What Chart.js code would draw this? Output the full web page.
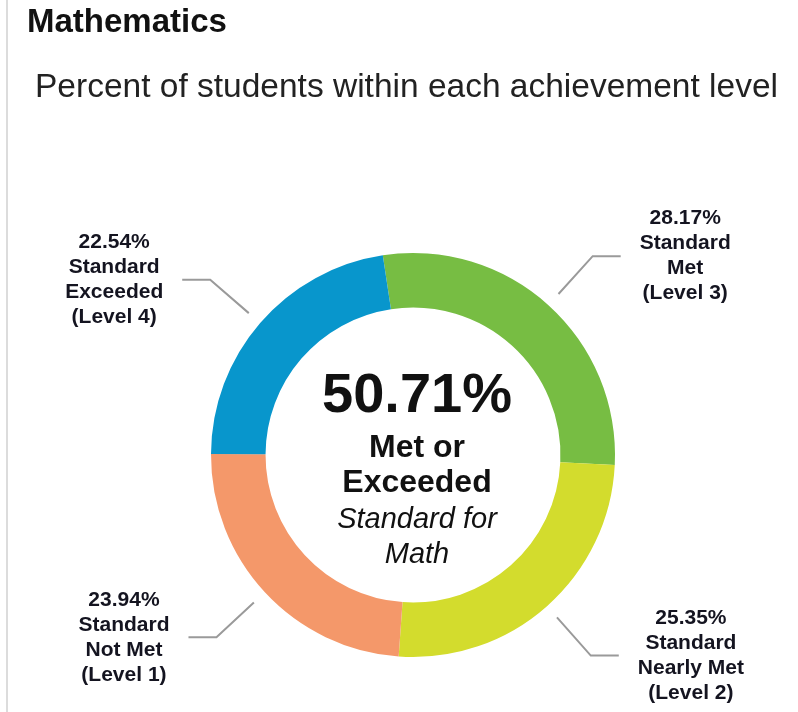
<!DOCTYPE html>
<html lang="en">

<head>
    <meta charset="UTF-8">
    <title>Mathematics</title>
    <style>
        body {
            margin: 0;
            background: #fff;
            font-family: Arial, "Liberation Sans", sans-serif;
        }

        .wrap {
            position: relative;
            width: 798px;
            height: 712px;
            overflow: hidden;
        }

        .edge {
            position: absolute;
            left: 6px;
            top: 0;
            width: 2px;
            height: 712px;
            background: #dcdcdc;
        }

        h1 {
            position: absolute;
            left: 27px;
            top: 2px;
            margin: 0;
            font-size: 33px;
            line-height: 38px;
            color: #111;
        }

        h2 {
            position: absolute;
            left: 35px;
            top: 67px;
            margin: 0;
            font-size: 33.5px;
            line-height: 38px;
            font-weight: normal;
            color: #222;
        }

        canvas {
            position: absolute;
            left: 0;
            top: 0;
        }
    </style>
</head>

<body>
    <div class="wrap">
        <div class="edge"></div>
        <canvas id="levels" width="798" height="712"></canvas>
        <h1>Mathematics</h1>
        <h2>Percent of students within each achievement level</h2>
    </div>
    <script src="https://cdn.jsdelivr.net/npm/chart.js"></script>
    <script>
        // achievement levels, clockwise from the top
        const categories = ['Standard Met (Level 3)', 'Standard Nearly Met (Level 2)', 'Standard Not Met (Level 1)', 'Standard Exceeded (Level 4)'];
        const labelLines = [
            ['Standard', 'Met', '(Level 3)'],
            ['Standard', 'Nearly Met', '(Level 2)'],
            ['Standard', 'Not Met', '(Level 1)'],
            ['Standard', 'Exceeded', '(Level 4)']
        ];
        const percents = [28.17, 25.35, 23.94, 22.54];
        const colors = ['#77bd43', '#d3dc2d', '#f4986a', '#0896cc'];
        const centerLines = ['50.71%', 'Met or', 'Exceeded', 'Standard for', 'Math'];

        const FONT = 'Arial, "Liberation Sans", sans-serif';

        // leader lines + outside labels
        const outsideLabels = {
            id: 'outsideLabels',
            afterDatasetsDraw(chart) {
                const ctx = chart.ctx;
                const arcs = chart.getDatasetMeta(0).data;
                ctx.save();
                arcs.forEach((arc, i) => {
                    const p = arc.getProps(['x', 'y', 'startAngle', 'endAngle', 'outerRadius'], true);
                    const a = (p.startAngle + p.endAngle) / 2;
                    const dir = Math.cos(a) >= 0 ? 1 : -1;
                    const r0 = p.outerRadius + 15;
                    const r1 = p.outerRadius + 66;
                    const x0 = p.x + Math.cos(a) * r0, y0 = p.y + Math.sin(a) * r0;
                    const x1 = p.x + Math.cos(a) * r1, y1 = p.y + Math.sin(a) * r1;
                    const x2 = x1 + dir * 28;

                    ctx.strokeStyle = '#9a9a9a';
                    ctx.lineWidth = 2;
                    ctx.beginPath();
                    ctx.moveTo(x0, y0);
                    ctx.lineTo(x1, y1);
                    ctx.lineTo(x2, y1);
                    ctx.stroke();

                    const lines = [percents[i].toFixed(2) + '%'].concat(labelLines[i]);
                    ctx.font = 'bold 21px ' + FONT;
                    const w = Math.max(...lines.map(t => ctx.measureText(t).width));
                    const cx = x2 + dir * (19 + w / 2);
                    ctx.fillStyle = '#141420';
                    ctx.textAlign = 'center';
                    ctx.textBaseline = 'middle';
                    lines.forEach((t, k) => {
                        ctx.fillText(t, cx, y1 + (k - (lines.length - 1) / 2) * 25);
                    });
                });
                ctx.restore();
            }
        };

        // text in the hole
        const centerText = {
            id: 'centerText',
            afterDatasetsDraw(chart) {
                const ctx = chart.ctx;
                const arc = chart.getDatasetMeta(0).data[0];
                const cx = arc.x + 4, cy = arc.y;
                const styles = [
                    ['bold 56px', -43],
                    ['bold 32px', 2],
                    ['bold 32px', 37],
                    ['italic 29px', 73],
                    ['italic 29px', 108]
                ];
                ctx.save();
                ctx.fillStyle = '#111';
                ctx.textAlign = 'center';
                ctx.textBaseline = 'alphabetic';
                centerLines.forEach((t, k) => {
                    ctx.font = styles[k][0] + ' ' + FONT;
                    ctx.fillText(t, cx, cy + styles[k][1]);
                });
                ctx.restore();
            }
        };

        new Chart(document.getElementById('levels'), {
            type: 'doughnut',
            data: {
                labels: categories,
                datasets: [{
                    data: percents,
                    backgroundColor: colors,
                    borderWidth: 0,
                    hoverOffset: 0
                }]
            },
            options: {
                responsive: false,
                animation: false,
                cutout: '73%',
                rotation: -8.6,
                layout: { padding: { left: 211, right: 183, top: 253, bottom: 55 } },
                plugins: {
                    legend: { display: false },
                    tooltip: { enabled: false }
                }
            },
            plugins: [outsideLabels, centerText]
        });
    </script>
</body>

</html>
